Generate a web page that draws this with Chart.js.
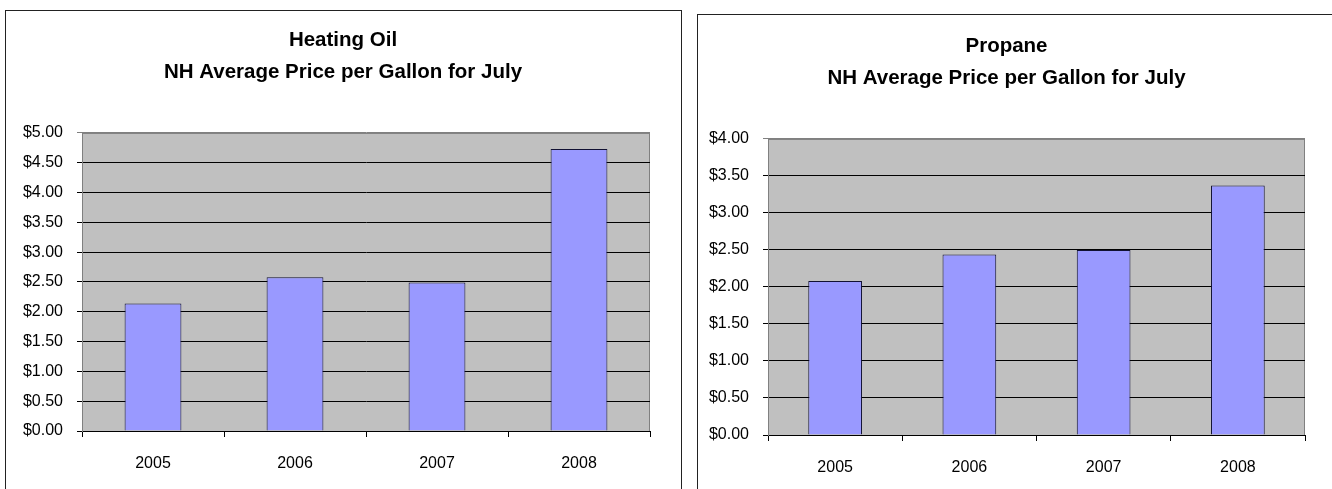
<!DOCTYPE html>
<html>
<head>
<meta charset="utf-8">
<script src="https://cdn.jsdelivr.net/npm/chart.js@4/dist/chart.umd.min.js"></script>
<style>
    html, body { margin: 0; padding: 0; background: #fff; overflow: hidden; }
    body { width: 1332px; height: 489px; position: relative; }
    .box { position: absolute; border: 1px solid #222; background: #fff; }
    #oil-box { left: 5px; top: 10px; width: 675px; height: 500px; }
    #propane-box { left: 697px; top: 14px; width: 700px; height: 500px; }
    canvas { position: absolute; }
    #oil-chart { left: 6px; top: 11px; }
    #propane-chart { left: 698px; top: 15px; }
</style>
</head>
<body>
<div class="box" id="oil-box"></div>
<div class="box" id="propane-box"></div>
<canvas id="oil-chart" width="674" height="478" style="width:674px;height:478px"></canvas>
<canvas id="propane-chart" width="617" height="474" style="width:617px;height:474px"></canvas>
<script>
const years = ['2005', '2006', '2007', '2008'];
const heatingOilPrices = [2.14, 2.58, 2.49, 4.73];
const propanePrices = [2.08, 2.44, 2.50, 3.37];
const heatingOilMax = 5;
const propaneMax = 4;
const priceStep = 0.5;
const heatingOilTitle = ['Heating Oil', 'NH Average Price per Gallon for July'];
const propaneTitle = ['Propane', 'NH Average Price per Gallon for July'];

function start() {
    const fontFamily = '"Liberation Sans", Arial, sans-serif';

    // grey plot area with thin border, like the old Excel default
    const plotBackground = {
        id: 'plotBackground',
        beforeDraw(chart) {
            const a = chart.chartArea;
            const ctx = chart.ctx;
            ctx.save();
            ctx.fillStyle = '#c0c0c0';
            ctx.fillRect(a.left, a.top, a.right - a.left, a.bottom - a.top);
            ctx.strokeStyle = '#808080';
            ctx.lineWidth = 1;
            ctx.strokeRect(a.left + 0.5, a.top + 0.5, a.right - a.left - 1, a.bottom - a.top);
            ctx.restore();
        }
    };

    function makeChart(id, title, values, max, layout) {
        const ctx = document.getElementById(id).getContext('2d');
        return new Chart(ctx, {
            type: 'bar',
            data: {
                labels: years,
                datasets: [{
                    data: values,
                    yAxisID: 'y',
                    backgroundColor: '#9999ff',
                    borderColor: '#111133',
                    borderWidth: 1,
                    categoryPercentage: 1,
                    barPercentage: 0.4
                }]
            },
            options: {
                responsive: false,
                animation: false,
                layout: { padding: 0 },
                plugins: {
                    legend: { display: false },
                    tooltip: { enabled: false },
                    title: {
                        display: true,
                        text: title,
                        color: '#000',
                        font: { family: fontFamily, size: 20.5, weight: 'bold', lineHeight: 1.56 },
                        padding: { top: layout.titleTop, bottom: 45 }
                    }
                },
                scales: {
                    x: {
                        offset: true,
                        grid: {
                            offset: true,
                            drawOnChartArea: false,
                            drawTicks: true,
                            tickLength: 6,
                            color: '#000'
                        },
                        border: { color: '#000' },
                        ticks: {
                            color: '#000',
                            padding: 17,
                            font: { family: fontFamily, size: 16 }
                        },
                        afterFit(scale) { scale.height = layout.xHeight; }
                    },
                    y: {
                        min: 0,
                        max: max,
                        grid: {
                            color: (c) => c.tick && c.tick.value === max ? '#808080' : '#000',
                            tickLength: 5
                        },
                        border: { color: '#808080' },
                        ticks: {
                            stepSize: priceStep,
                            color: '#000',
                            padding: 14,
                            font: { family: fontFamily, size: 16 },
                            callback: (v) => '$' + Number(v).toFixed(2)
                        },
                        afterFit(scale) { scale.width = layout.yWidth; }
                    },
                    // empty right-hand box, only keeps the white gap right of the plot
                    gap: {
                        type: 'linear',
                        position: 'right',
                        min: 0,
                        max: 1,
                        grid: { display: false },
                        border: { display: false },
                        ticks: { display: false },
                        afterFit(scale) { scale.width = layout.rightGap; }
                    }
                }
            },
            plugins: [plotBackground]
        });
    }

    makeChart('oil-chart', heatingOilTitle, heatingOilPrices, heatingOilMax,
        { yWidth: 76, rightGap: 30, xHeight: 58, titleTop: 13 });
    makeChart('propane-chart', propaneTitle, propanePrices, propaneMax,
        { yWidth: 70, rightGap: 10, xHeight: 54, titleTop: 15 });
}

window.addEventListener('load', start, false);
</script>
</body>
</html>
